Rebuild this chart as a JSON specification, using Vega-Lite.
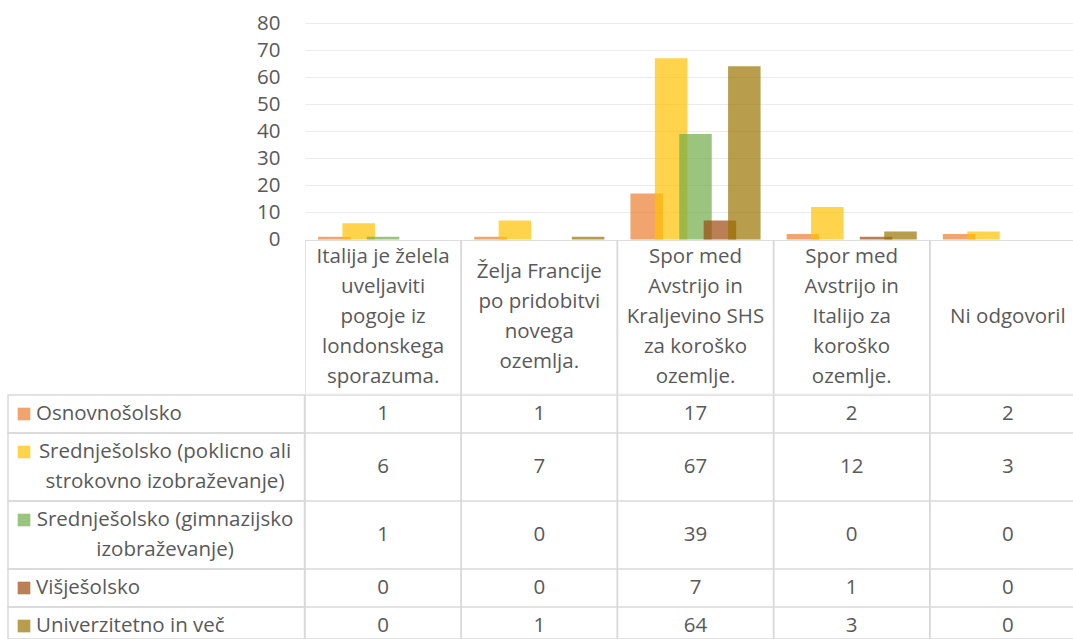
{
  "$schema": "https://vega.github.io/schema/vega-lite/v6.json",
  "background": "white",
  "padding": {"left": 7, "top": 13, "right": 0, "bottom": 0},
  "bounds": "flush",
  "spacing": 0,
  "columns": 2,
  "resolve": {"scale": {"x": "independent", "y": "independent", "xOffset": "independent"}},
  "config": {
    "view": {"stroke": null},
    "font": "Open Sans",
    "text": {"font": "Open Sans", "fontSize": 20.5, "color": "#595959"}
  },
  "datasets": {
    "t": [
      {"s": "Osnovnošolsko", "c": "Italija je želela\nuveljaviti\npogoje iz\nlondonskega\nsporazuma.", "v": 1},
      {"s": "Osnovnošolsko", "c": "Želja Francije\npo pridobitvi\nnovega\nozemlja.", "v": 1},
      {"s": "Osnovnošolsko", "c": "Spor med\nAvstrijo in\nKraljevino SHS\nza koroško\nozemlje.", "v": 17},
      {"s": "Osnovnošolsko", "c": "Spor med\nAvstrijo in\nItalijo za\nkoroško\nozemlje.", "v": 2},
      {"s": "Osnovnošolsko", "c": "Ni odgovoril", "v": 2},
      {"s": "Srednješolsko (poklicno ali\nstrokovno izobraževanje)", "c": "Italija je želela\nuveljaviti\npogoje iz\nlondonskega\nsporazuma.", "v": 6},
      {"s": "Srednješolsko (poklicno ali\nstrokovno izobraževanje)", "c": "Želja Francije\npo pridobitvi\nnovega\nozemlja.", "v": 7},
      {"s": "Srednješolsko (poklicno ali\nstrokovno izobraževanje)", "c": "Spor med\nAvstrijo in\nKraljevino SHS\nza koroško\nozemlje.", "v": 67},
      {"s": "Srednješolsko (poklicno ali\nstrokovno izobraževanje)", "c": "Spor med\nAvstrijo in\nItalijo za\nkoroško\nozemlje.", "v": 12},
      {"s": "Srednješolsko (poklicno ali\nstrokovno izobraževanje)", "c": "Ni odgovoril", "v": 3},
      {"s": "Srednješolsko (gimnazijsko\nizobraževanje)", "c": "Italija je želela\nuveljaviti\npogoje iz\nlondonskega\nsporazuma.", "v": 1},
      {"s": "Srednješolsko (gimnazijsko\nizobraževanje)", "c": "Želja Francije\npo pridobitvi\nnovega\nozemlja.", "v": 0},
      {"s": "Srednješolsko (gimnazijsko\nizobraževanje)", "c": "Spor med\nAvstrijo in\nKraljevino SHS\nza koroško\nozemlje.", "v": 39},
      {"s": "Srednješolsko (gimnazijsko\nizobraževanje)", "c": "Spor med\nAvstrijo in\nItalijo za\nkoroško\nozemlje.", "v": 0},
      {"s": "Srednješolsko (gimnazijsko\nizobraževanje)", "c": "Ni odgovoril", "v": 0},
      {"s": "Višješolsko", "c": "Italija je želela\nuveljaviti\npogoje iz\nlondonskega\nsporazuma.", "v": 0},
      {"s": "Višješolsko", "c": "Želja Francije\npo pridobitvi\nnovega\nozemlja.", "v": 0},
      {"s": "Višješolsko", "c": "Spor med\nAvstrijo in\nKraljevino SHS\nza koroško\nozemlje.", "v": 7},
      {"s": "Višješolsko", "c": "Spor med\nAvstrijo in\nItalijo za\nkoroško\nozemlje.", "v": 1},
      {"s": "Višješolsko", "c": "Ni odgovoril", "v": 0},
      {"s": "Univerzitetno in več", "c": "Italija je želela\nuveljaviti\npogoje iz\nlondonskega\nsporazuma.", "v": 0},
      {"s": "Univerzitetno in več", "c": "Želja Francije\npo pridobitvi\nnovega\nozemlja.", "v": 1},
      {"s": "Univerzitetno in več", "c": "Spor med\nAvstrijo in\nKraljevino SHS\nza koroško\nozemlje.", "v": 64},
      {"s": "Univerzitetno in več", "c": "Spor med\nAvstrijo in\nItalijo za\nkoroško\nozemlje.", "v": 3},
      {"s": "Univerzitetno in več", "c": "Ni odgovoril", "v": 0}
    ],
    "cats": [
      {"c": "Italija je želela\nuveljaviti\npogoje iz\nlondonskega\nsporazuma."},
      {"c": "Želja Francije\npo pridobitvi\nnovega\nozemlja."},
      {"c": "Spor med\nAvstrijo in\nKraljevino SHS\nza koroško\nozemlje."},
      {"c": "Spor med\nAvstrijo in\nItalijo za\nkoroško\nozemlje."},
      {"c": "Ni odgovoril"}
    ],
    "series": [
      {"s": "Osnovnošolsko"},
      {"s": "Srednješolsko (poklicno ali\nstrokovno izobraževanje)"},
      {"s": "Srednješolsko (gimnazijsko\nizobraževanje)"},
      {"s": "Višješolsko"},
      {"s": "Univerzitetno in več"}
    ]
  },
  "concat": [
    {
      "width": 296.5, "height": 216.5,
      "data": {"name": "cats"},
      "mark": {"type": "point", "opacity": 0},
      "encoding": {}
    },
    {
      "width": 768.5, "height": 216.5,
      "data": {"name": "t"},
      "mark": {"type": "bar", "width": 32.5, "opacity": 0.7},
      "encoding": {
        "x": {"field": "c", "type": "nominal", "sort": null, "scale": {"range": [0, 781], "paddingInner": 0, "paddingOuter": 0}, "axis": null},
        "xOffset": {"field": "s", "type": "nominal", "sort": null, "scale": {"paddingInner": 0, "paddingOuter": 0.7}},
        "y": {"field": "v", "type": "quantitative", "scale": {"domain": [0, 80], "nice": false},
          "axis": {"values": [0, 10, 20, 30, 40, 50, 60, 70, 80], "title": null, "domain": false, "ticks": false, "labelPadding": 25, "labelFontSize": 20.5, "labelFont": "Open Sans", "labelColor": "#595959", "gridColor": "#ebebeb", "gridWidth": 1.2}},
        "color": {"field": "s", "type": "nominal", "legend": null,
          "scale": {"domain": ["Osnovnošolsko", "Srednješolsko (poklicno ali\nstrokovno izobraževanje)", "Srednješolsko (gimnazijsko\nizobraževanje)", "Višješolsko", "Univerzitetno in več"],
                    "range": ["#ED7D31", "#FFC000", "#70AD47", "#9E480E", "#997300"]}}
      }
    },
    {
      "width": 296.5, "height": 154.5,
      "data": {"name": "cats"},
      "mark": {"type": "point", "opacity": 0},
      "encoding": {}
    },
    {
      "width": 768.5, "height": 154.5,
      "data": {"name": "cats"},
      "encoding": {"x": {"field": "c", "type": "nominal", "sort": null, "scale": {"range": [0, 781], "paddingInner": 0, "paddingOuter": 0}, "axis": null}},
      "layer": [
        {"mark": {"type": "bar", "fill": "transparent", "stroke": "#d9d9d9", "strokeWidth": 1.5, "clip": true}},
        {"transform": [{"filter": {"field": "c", "oneOf": ["Italija je želela\nuveljaviti\npogoje iz\nlondonskega\nsporazuma.", "Spor med\nAvstrijo in\nKraljevino SHS\nza koroško\nozemlje.", "Spor med\nAvstrijo in\nItalijo za\nkoroško\nozemlje."]}}],
         "mark": {"type": "text", "lineBreak": "\n", "lineHeight": 30, "baseline": "middle", "dy": -60}, "encoding": {"text": {"field": "c"}}},
        {"transform": [{"filter": {"field": "c", "equal": "Želja Francije\npo pridobitvi\nnovega\nozemlja."}}],
         "mark": {"type": "text", "lineBreak": "\n", "lineHeight": 30, "baseline": "middle", "dy": -45}, "encoding": {"text": {"field": "c"}}},
        {"transform": [{"filter": {"field": "c", "equal": "Ni odgovoril"}}],
         "mark": {"type": "text", "baseline": "middle"}, "encoding": {"text": {"field": "c"}}}
      ]
    },
    {
      "width": 296.5, "height": 38,
      "view": {"stroke": "#d9d9d9", "strokeWidth": 1.5},
      "data": {"name": "series"},
      "transform": [{"filter": {"field": "s", "equal": "Osnovnošolsko"}}],
      "encoding": {"x": {"field": "s", "type": "nominal", "scale": {"type": "point", "padding": 0, "align": 0}, "axis": null}},
      "layer": [
        {"mark": {"type": "point", "shape": "square", "filled": true, "size": 160, "opacity": 0.7, "xOffset": 16},
         "encoding": {"color": {"field": "s", "type": "nominal", "legend": null, "scale": {"domain": ["Osnovnošolsko", "Srednješolsko (poklicno ali\nstrokovno izobraževanje)", "Srednješolsko (gimnazijsko\nizobraževanje)", "Višješolsko", "Univerzitetno in več"], "range": ["#ED7D31", "#FFC000", "#70AD47", "#9E480E", "#997300"]}}}},
        {"mark": {"type": "text", "align": "left", "baseline": "middle", "dx": 28}, "encoding": {"text": {"field": "s"}}}
      ]
    },
    {
      "width": 768.5, "height": 38,
      "data": {"name": "t"},
      "transform": [{"filter": {"field": "s", "equal": "Osnovnošolsko"}}],
      "encoding": {"x": {"field": "c", "type": "nominal", "sort": null, "scale": {"range": [0, 781], "paddingInner": 0, "paddingOuter": 0}, "axis": null}},
      "layer": [
        {"mark": {"type": "bar", "fill": "transparent", "stroke": "#d9d9d9", "strokeWidth": 1.5, "clip": true}},
        {"mark": {"type": "text", "baseline": "middle"}, "encoding": {"text": {"field": "v", "type": "nominal"}}}
      ]
    },
    {
      "width": 296.5, "height": 68,
      "view": {"stroke": "#d9d9d9", "strokeWidth": 1.5},
      "data": {"name": "series"},
      "transform": [{"filter": {"field": "s", "equal": "Srednješolsko (poklicno ali\nstrokovno izobraževanje)"}}],
      "encoding": {"x": {"field": "s", "type": "nominal", "scale": {"type": "point", "padding": 0, "align": 0}, "axis": null}},
      "layer": [
        {"mark": {"type": "point", "shape": "square", "filled": true, "size": 160, "opacity": 0.7, "xOffset": 16, "yOffset": -15},
         "encoding": {"color": {"field": "s", "type": "nominal", "legend": null, "scale": {"domain": ["Osnovnošolsko", "Srednješolsko (poklicno ali\nstrokovno izobraževanje)", "Srednješolsko (gimnazijsko\nizobraževanje)", "Višješolsko", "Univerzitetno in več"], "range": ["#ED7D31", "#FFC000", "#70AD47", "#9E480E", "#997300"]}}}},
        {"mark": {"type": "text", "align": "center", "baseline": "middle", "dx": 157, "dy": -15, "lineBreak": "\n", "lineHeight": 30},
         "encoding": {"text": {"field": "s"}}}
      ]
    },
    {
      "width": 768.5, "height": 68,
      "data": {"name": "t"},
      "transform": [{"filter": {"field": "s", "equal": "Srednješolsko (poklicno ali\nstrokovno izobraževanje)"}}],
      "encoding": {"x": {"field": "c", "type": "nominal", "sort": null, "scale": {"range": [0, 781], "paddingInner": 0, "paddingOuter": 0}, "axis": null}},
      "layer": [
        {"mark": {"type": "bar", "fill": "transparent", "stroke": "#d9d9d9", "strokeWidth": 1.5, "clip": true}},
        {"mark": {"type": "text", "baseline": "middle"}, "encoding": {"text": {"field": "v", "type": "nominal"}}}
      ]
    },
    {
      "width": 296.5, "height": 68,
      "view": {"stroke": "#d9d9d9", "strokeWidth": 1.5},
      "data": {"name": "series"},
      "transform": [{"filter": {"field": "s", "equal": "Srednješolsko (gimnazijsko\nizobraževanje)"}}],
      "encoding": {"x": {"field": "s", "type": "nominal", "scale": {"type": "point", "padding": 0, "align": 0}, "axis": null}},
      "layer": [
        {"mark": {"type": "point", "shape": "square", "filled": true, "size": 160, "opacity": 0.7, "xOffset": 16, "yOffset": -15},
         "encoding": {"color": {"field": "s", "type": "nominal", "legend": null, "scale": {"domain": ["Osnovnošolsko", "Srednješolsko (poklicno ali\nstrokovno izobraževanje)", "Srednješolsko (gimnazijsko\nizobraževanje)", "Višješolsko", "Univerzitetno in več"], "range": ["#ED7D31", "#FFC000", "#70AD47", "#9E480E", "#997300"]}}}},
        {"mark": {"type": "text", "align": "center", "baseline": "middle", "dx": 157, "dy": -15, "lineBreak": "\n", "lineHeight": 30},
         "encoding": {"text": {"field": "s"}}}
      ]
    },
    {
      "width": 768.5, "height": 68,
      "data": {"name": "t"},
      "transform": [{"filter": {"field": "s", "equal": "Srednješolsko (gimnazijsko\nizobraževanje)"}}],
      "encoding": {"x": {"field": "c", "type": "nominal", "sort": null, "scale": {"range": [0, 781], "paddingInner": 0, "paddingOuter": 0}, "axis": null}},
      "layer": [
        {"mark": {"type": "bar", "fill": "transparent", "stroke": "#d9d9d9", "strokeWidth": 1.5, "clip": true}},
        {"mark": {"type": "text", "baseline": "middle"}, "encoding": {"text": {"field": "v", "type": "nominal"}}}
      ]
    },
    {
      "width": 296.5, "height": 38,
      "view": {"stroke": "#d9d9d9", "strokeWidth": 1.5},
      "data": {"name": "series"},
      "transform": [{"filter": {"field": "s", "equal": "Višješolsko"}}],
      "encoding": {"x": {"field": "s", "type": "nominal", "scale": {"type": "point", "padding": 0, "align": 0}, "axis": null}},
      "layer": [
        {"mark": {"type": "point", "shape": "square", "filled": true, "size": 160, "opacity": 0.7, "xOffset": 16},
         "encoding": {"color": {"field": "s", "type": "nominal", "legend": null, "scale": {"domain": ["Osnovnošolsko", "Srednješolsko (poklicno ali\nstrokovno izobraževanje)", "Srednješolsko (gimnazijsko\nizobraževanje)", "Višješolsko", "Univerzitetno in več"], "range": ["#ED7D31", "#FFC000", "#70AD47", "#9E480E", "#997300"]}}}},
        {"mark": {"type": "text", "align": "left", "baseline": "middle", "dx": 28}, "encoding": {"text": {"field": "s"}}}
      ]
    },
    {
      "width": 768.5, "height": 38,
      "data": {"name": "t"},
      "transform": [{"filter": {"field": "s", "equal": "Višješolsko"}}],
      "encoding": {"x": {"field": "c", "type": "nominal", "sort": null, "scale": {"range": [0, 781], "paddingInner": 0, "paddingOuter": 0}, "axis": null}},
      "layer": [
        {"mark": {"type": "bar", "fill": "transparent", "stroke": "#d9d9d9", "strokeWidth": 1.5, "clip": true}},
        {"mark": {"type": "text", "baseline": "middle"}, "encoding": {"text": {"field": "v", "type": "nominal"}}}
      ]
    },
    {
      "width": 296.5, "height": 32,
      "view": {"stroke": "#d9d9d9", "strokeWidth": 1.5},
      "data": {"name": "series"},
      "transform": [{"filter": {"field": "s", "equal": "Univerzitetno in več"}}],
      "encoding": {"x": {"field": "s", "type": "nominal", "scale": {"type": "point", "padding": 0, "align": 0}, "axis": null}},
      "layer": [
        {"mark": {"type": "point", "shape": "square", "filled": true, "size": 160, "opacity": 0.7, "xOffset": 16, "yOffset": 3},
         "encoding": {"color": {"field": "s", "type": "nominal", "legend": null, "scale": {"domain": ["Osnovnošolsko", "Srednješolsko (poklicno ali\nstrokovno izobraževanje)", "Srednješolsko (gimnazijsko\nizobraževanje)", "Višješolsko", "Univerzitetno in več"], "range": ["#ED7D31", "#FFC000", "#70AD47", "#9E480E", "#997300"]}}}},
        {"mark": {"type": "text", "align": "left", "baseline": "middle", "dx": 28, "dy": 3}, "encoding": {"text": {"field": "s"}}}
      ]
    },
    {
      "width": 768.5, "height": 32,
      "data": {"name": "t"},
      "transform": [{"filter": {"field": "s", "equal": "Univerzitetno in več"}}],
      "encoding": {"x": {"field": "c", "type": "nominal", "sort": null, "scale": {"range": [0, 781], "paddingInner": 0, "paddingOuter": 0}, "axis": null}},
      "layer": [
        {"mark": {"type": "bar", "fill": "transparent", "stroke": "#d9d9d9", "strokeWidth": 1.5, "clip": true}},
        {"mark": {"type": "text", "baseline": "middle", "dy": 3}, "encoding": {"text": {"field": "v", "type": "nominal"}}}
      ]
    }
  ]
}
